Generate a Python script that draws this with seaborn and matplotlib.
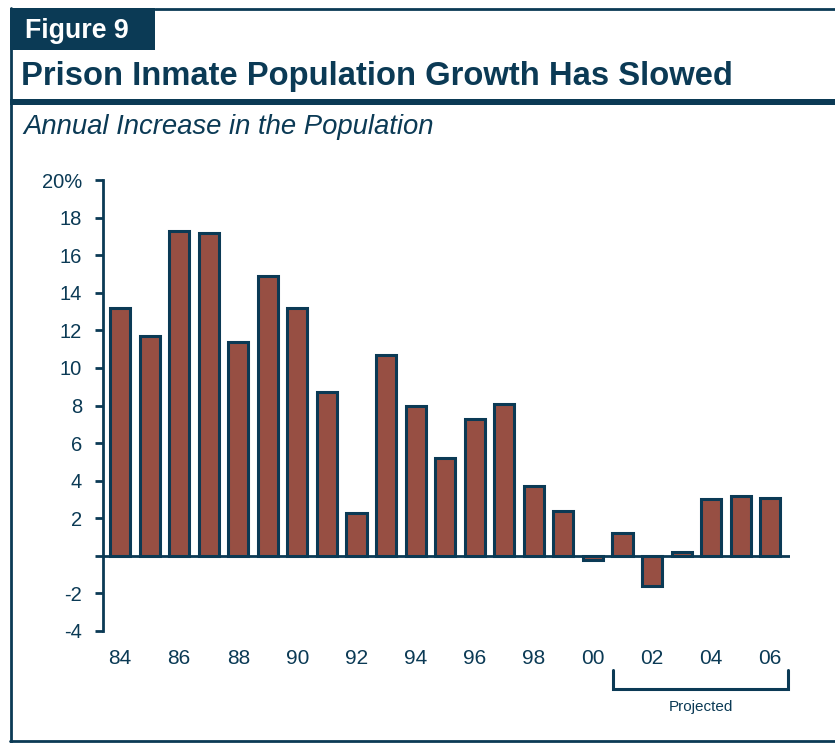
import matplotlib
matplotlib.use("Agg")
import matplotlib.pyplot as plt
import seaborn as sns
import pandas as pd
from matplotlib.patches import Rectangle
from matplotlib.lines import Line2D

# Annual change in the prison inmate population (percent), 1984-2006
years = ["84", "85", "86", "87", "88", "89", "90", "91", "92", "93", "94", "95",
         "96", "97", "98", "99", "00", "01", "02", "03", "04", "05", "06"]
growth = [13.2, 11.7, 17.3, 17.2, 11.4, 14.9, 13.2, 8.7, 2.3, 10.7, 8.0, 5.2,
          7.3, 8.1, 3.7, 2.4, -0.2, 1.2, -1.6, 0.2, 3.0, 3.2, 3.1]
y_ticks = [-4, -2, 0, 2, 4, 6, 8, 10, 12, 14, 16, 18, 20]
y_tick_labels = ["-4", "-2", "", "2", "4", "6", "8", "10", "12", "14", "16", "18", "20%"]
x_tick_labels = ["84", "86", "88", "90", "92", "94", "96", "98", "00", "02", "04", "06"]

NAVY = "#0b3a55"
BAR = "#974f43"

sns.set_theme(style="white")
plt.rcParams["font.family"] = ["Liberation Sans", "DejaVu Sans"]

df = pd.DataFrame({"year": years, "growth": growth})

fig = plt.figure(figsize=(8.35, 7.43), dpi=100)
W, H = 835, 743

def fx(px):
    return px / W

def fy(py):
    return 1 - py / H

# Frame and header
fig.add_artist(Rectangle((fx(10), fy(50)), fx(145), fy(8) - fy(50),
                         transform=fig.transFigure, color=NAVY, lw=0))
fig.add_artist(Line2D([fx(155), 1], [fy(9), fy(9)], transform=fig.transFigure,
                      color=NAVY, lw=2))
fig.add_artist(Line2D([fx(10.5), fx(10.5)], [fy(8), fy(743)], transform=fig.transFigure,
                      color=NAVY, lw=2))
fig.add_artist(Rectangle((fx(10), fy(105)), 1 - fx(10), fy(99) - fy(105),
                         transform=fig.transFigure, color=NAVY, lw=0))
fig.add_artist(Line2D([fx(10), 1], [fy(741), fy(741)], transform=fig.transFigure,
                      color=NAVY, lw=2))

fig.text(fx(25), fy(31), "Figure 9", color="white", fontsize=19.3, fontweight="bold",
         va="center", ha="left")
fig.text(fx(21), fy(76), "Prison Inmate Population Growth Has Slowed", color=NAVY,
         fontsize=23.6, fontweight="bold", va="center", ha="left")
fig.text(fx(23), fy(127), "Annual Increase in the Population", color=NAVY,
         fontsize=19.8, fontstyle="italic", va="center", ha="left")

ax = fig.add_axes([fx(103), fy(631), fx(790) - fx(103), fy(180) - fy(631)])
sns.barplot(data=df, x="year", y="growth", order=years, color=BAR, width=0.68,
            edgecolor=NAVY, linewidth=2.2, saturation=1, ax=ax)

ax.set_xlim(-0.58, 22.67)
ax.set_ylim(-4, 20)
ax.axhline(0, color=NAVY, lw=2, zorder=3)

ax.set_yticks(y_ticks)
ax.set_yticklabels(y_tick_labels)
ax.set_xticks(range(0, len(years), 2))
ax.set_xticklabels(x_tick_labels)
ax.tick_params(axis="y", colors=NAVY, labelcolor=NAVY, labelsize=14.5, length=6,
               width=2, direction="out", left=True, pad=9)
ax.tick_params(axis="x", labelcolor=NAVY, labelsize=15, length=0, pad=13)
ax.set_xlabel("")
ax.set_ylabel("")
for s in ["top", "right", "bottom"]:
    ax.spines[s].set_visible(False)
ax.spines["left"].set_color(NAVY)
ax.spines["left"].set_linewidth(2)
ax.patch.set_alpha(0)

# Bracket marking projected years
bx0, bx1 = 16.68, 22.6
by0, by1 = fy(670), fy(689)
inv = fig.transFigure.inverted()
X0 = inv.transform(ax.transData.transform((bx0, 0)))[0]
X1 = inv.transform(ax.transData.transform((bx1, 0)))[0]
fig.add_artist(Line2D([X0, X0, X1, X1], [by0, by1, by1, by0], transform=fig.transFigure,
                      color=NAVY, lw=2.2, solid_joinstyle="miter"))
fig.text((X0 + X1) / 2, fy(707), "Projected", color=NAVY, fontsize=11,
         ha="center", va="center")

fig.savefig("out.png", dpi=100)
